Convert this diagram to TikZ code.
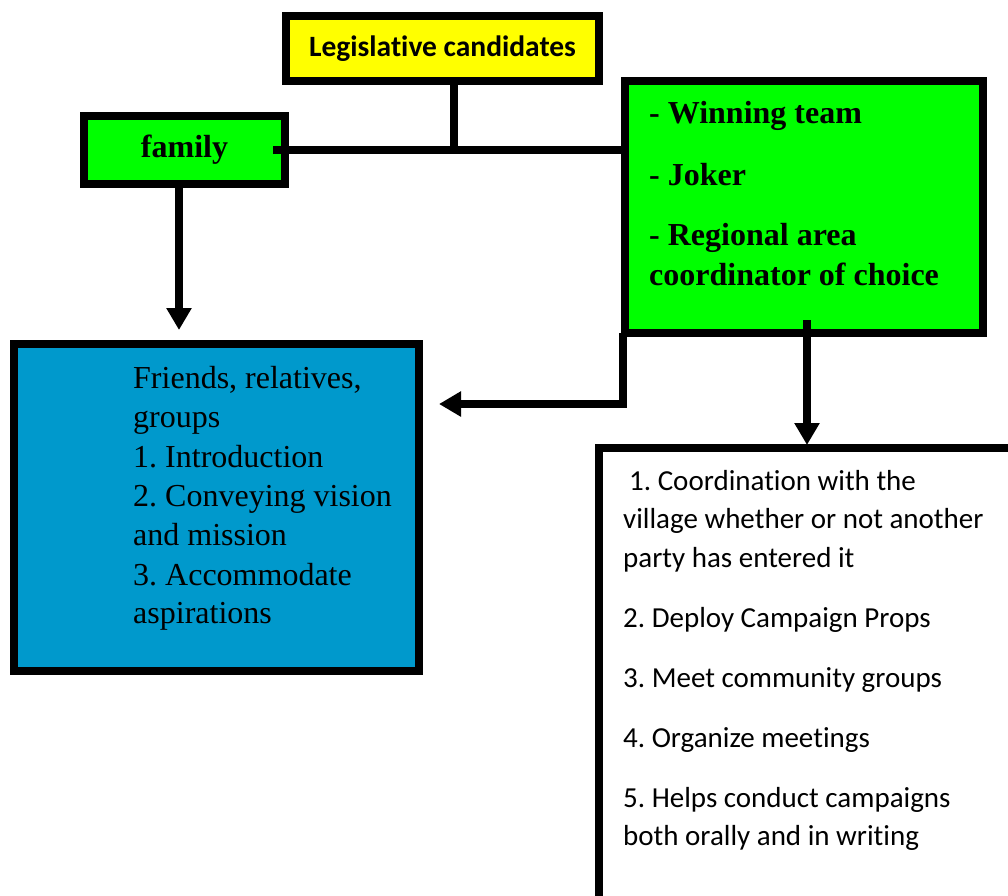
\documentclass[tikz,border=0pt]{standalone}
\usepackage{fontspec}
\setmainfont{Liberation Serif}
\newfontfamily\calibri[RawFeature={-liga;-calt;-dlig;-clig}]{Carlito}
\usetikzlibrary{arrows.meta}
\definecolor{boxyellow}{RGB}{255,255,0}
\definecolor{boxgreen}{RGB}{0,255,0}
\definecolor{boxblue}{RGB}{0,153,204}
\frenchspacing
\begin{document}
\frenchspacing
\begin{tikzpicture}[x=1pt,y=-1pt,
  box/.style={draw=black,line width=8pt,inner sep=0pt},
  conn/.style={line width=8pt},
  arr/.style={conn,-{Triangle[length=22pt,width=24pt]}},
  txt/.style={inner sep=0pt,anchor=base west},
  serifbold/.style={font=\bfseries\fontsize{32}{38}\selectfont},
  serifreg/.style={font=\fontsize{32}{38}\selectfont},
  calreg/.style={font=\calibri\fontsize{29}{36}\selectfont},
]
\useasboundingbox (0,0) rectangle (1008,895);
\clip (0,0) rectangle (1008,895);

% boxes
\node[box,fill=boxyellow,minimum width=313pt,minimum height=65pt,
      font=\calibri\bfseries\fontsize{29.5}{34}\selectfont] (cand) at (442.5,48.5) {Legislative candidates};
\node[box,fill=boxgreen,minimum width=201pt,minimum height=68pt,serifbold] (family) at (184.5,150) {family};
\node[box,fill=boxgreen,minimum width=358pt,minimum height=252pt] (green) at (804,207) {};
\node[box,fill=boxblue,minimum width=405pt,minimum height=327pt] (blue) at (216.5,507.5) {};
\node[box,fill=white,minimum width=501pt,minimum height=552pt] (white) at (849.5,724) {};

% green box text
\node[txt,serifbold] (g1) at (649,123) {- Winning team};
\node[txt,serifbold] (g2) at (649,185) {- Joker};
\node[txt,serifbold] (g3) at (649,245) {- Regional area};
\node[txt,serifbold] (g4) at (649,285) {coordinator of choice};

% blue box text
\node[txt,serifreg] (b1) at (133,388) {Friends, relatives,};
\node[txt,serifreg] (b2) at (133,427) {groups};
\node[txt,serifreg] (b3) at (133,467) {1. Introduction};
\node[txt,serifreg] (b4) at (133,506) {2. Conveying vision};
\node[txt,serifreg] (b5) at (133,545) {and mission};
\node[txt,serifreg] (b6) at (133,585) {3. Accommodate};
\node[txt,serifreg] (b7) at (133,623) {aspirations};

% white box text
\node[txt,calreg] (w1) at (629,490) {1. Coordination with the};
\node[txt,calreg] (w2) at (623,528) {village whether or not another};
\node[txt,calreg] (w3) at (623,567) {party has entered it};
\node[txt,calreg] (w4) at (623,627) {2. Deploy Campaign Props};
\node[txt,calreg] (w5) at (623,687) {3. Meet community groups};
\node[txt,calreg] (w6) at (623,747) {4. Organize meetings};
\node[txt,calreg] (w7) at (623,807) {5. Helps conduct campaigns};
\node[txt,calreg] (w8) at (623,845) {both orally and in writing};

% connectors
\coordinate (junc) at (454,150);
\coordinate (famjoin) at (273,150);
\coordinate (famtip) at (179,330);
\coordinate (gleft) at (623,333);
\coordinate (bluetip) at (439,404);
\coordinate (gdown) at (807,320);
\coordinate (whitetip) at (807,445);

\draw[conn] (cand.south -| junc) -- (junc);
\draw[conn] (famjoin) -- (green.west |- famjoin);
\draw[arr] (family.south -| famtip) -- (famtip);
\draw[arr] (gleft) |- (bluetip);
\draw[arr] (gdown) -- (whitetip);
\end{tikzpicture}
\end{document}
